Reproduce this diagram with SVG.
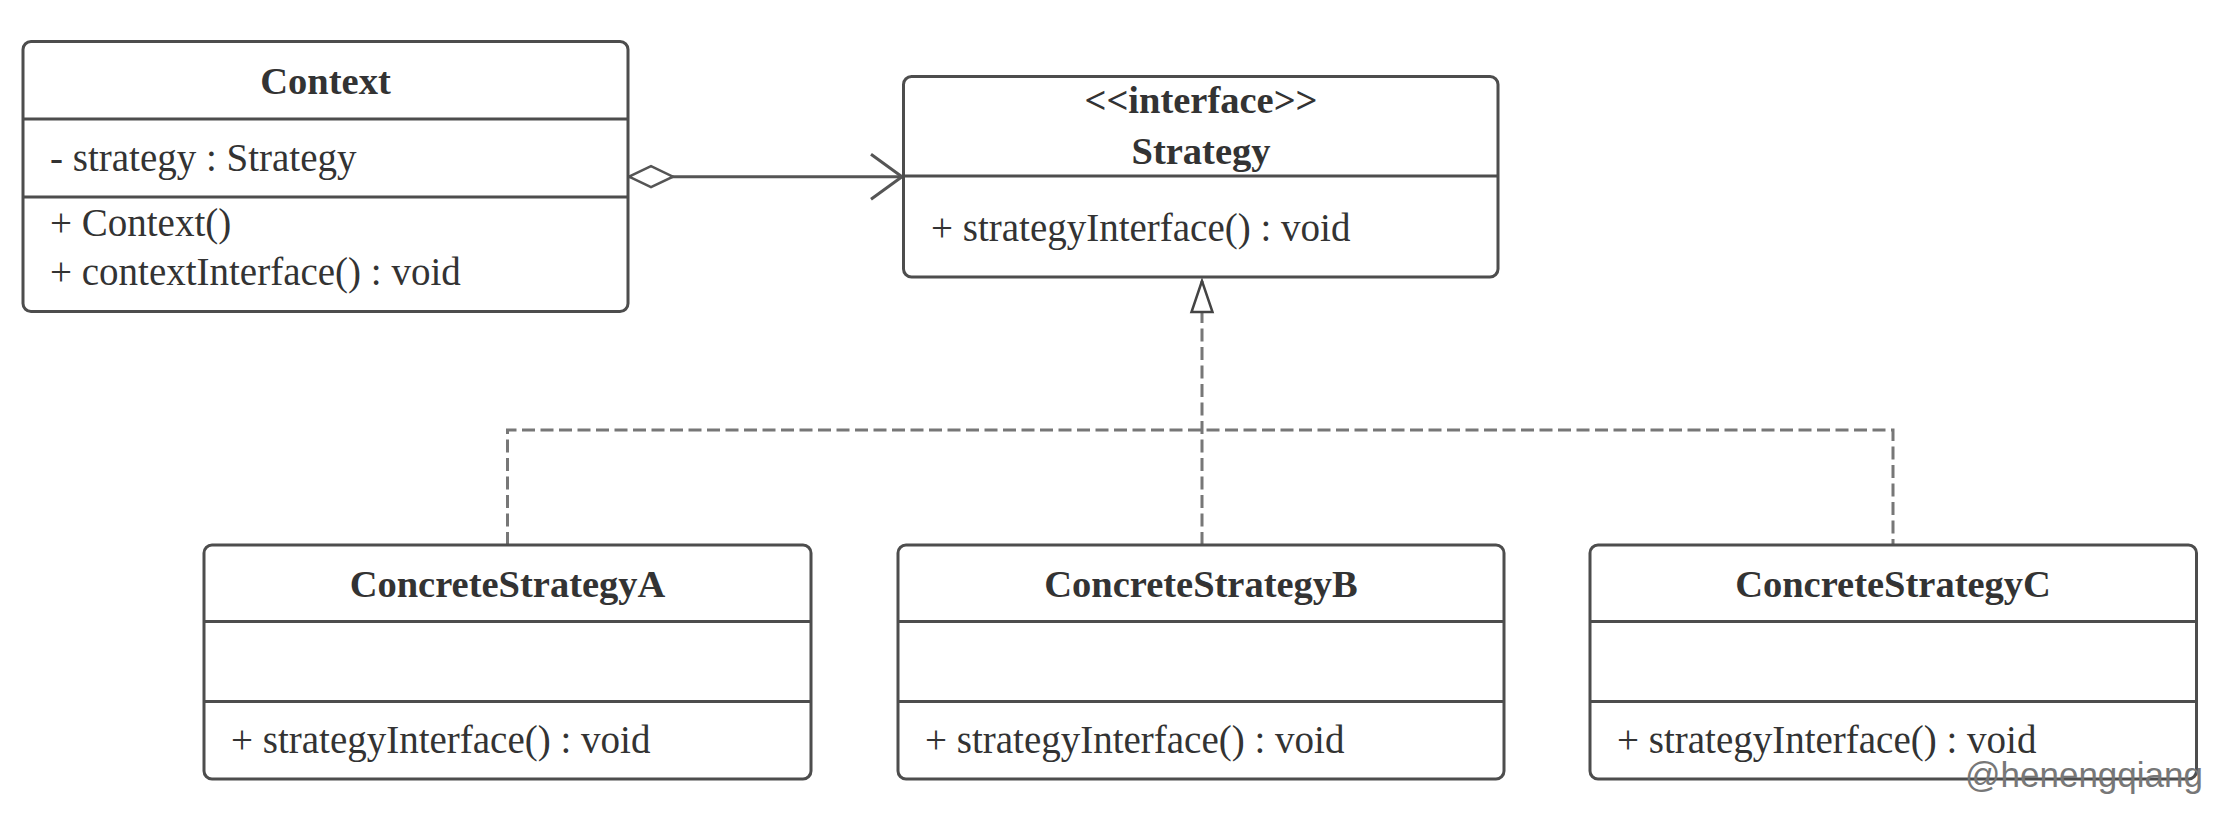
<svg xmlns="http://www.w3.org/2000/svg" width="2222" height="820" viewBox="0 0 2222 820">
<style>
.box{fill:#fff;stroke:#4d4d4d;stroke-width:3}
.div{stroke:#4d4d4d;stroke-width:3}
.t{font-family:"Liberation Serif","Times New Roman",serif;font-size:39px;fill:#333}
.b{font-family:"Liberation Serif","Times New Roman",serif;font-size:38.5px;font-weight:bold;fill:#333;text-anchor:middle}
.solid{fill:none;stroke:#555;stroke-width:3}
.dash{fill:none;stroke:#777;stroke-width:3;stroke-dasharray:13 5.5}
.wm{font-family:"Liberation Sans",Arial,sans-serif;font-size:35px;fill:#777}
</style>
<defs>
<marker id="diamond" markerUnits="userSpaceOnUse" viewBox="0 -13 48 26" markerWidth="48" markerHeight="26" refX="0" refY="0" orient="auto">
<path d="M1,0 L23,-10.5 L45,0 L23,10.5 Z" fill="#fff" stroke="#555" stroke-width="2.5"/>
</marker>
<marker id="open" markerUnits="userSpaceOnUse" viewBox="-35 -26 38 52" markerWidth="38" markerHeight="52" refX="0" refY="0" orient="auto">
<path d="M-31,-22.5 L0,0 L-31,22.5" fill="none" stroke="#555" stroke-width="3"/>
</marker>
<marker id="tri" markerUnits="userSpaceOnUse" viewBox="-34 -14 37 28" markerWidth="37" markerHeight="28" refX="0" refY="0" orient="auto">
<path d="M0,0 L-31,-10.5 L-31,10.5 Z" fill="#fff" stroke="#444" stroke-width="2.5" stroke-dasharray="none"/>
</marker>
</defs>
<rect width="2222" height="820" fill="#fff"/>
<g id="connectors">
<path class="solid" d="M628,176.7 L902,176.7" marker-start="url(#diamond)" marker-end="url(#open)"/>
<path class="dash" d="M507.5,545 L507.5,430 L1893,430 L1893,545"/>
<path class="dash" d="M1202,545 L1202,281" marker-end="url(#tri)"/>
</g>
<g id="Context">
<rect class="box" x="23" y="41.5" width="605" height="270" rx="8"/>
<line class="div" x1="23" y1="119" x2="628" y2="119"/>
<line class="div" x1="23" y1="197" x2="628" y2="197"/>
<text class="b" x="325.5" y="94">Context</text>
<text class="t" x="50" y="171">- strategy : Strategy</text>
<text class="t" x="50" y="236">+ Context()</text>
<text class="t" x="50" y="285">+ contextInterface() : void</text>
</g>
<g id="Strategy">
<rect class="box" x="903.5" y="76.5" width="594.5" height="200.5" rx="8"/>
<line class="div" x1="903.5" y1="176" x2="1498" y2="176"/>
<text class="b" x="1201" y="113">&lt;&lt;interface&gt;&gt;</text>
<text class="b" x="1201" y="164">Strategy</text>
<text class="t" x="931" y="241">+ strategyInterface() : void</text>
</g>
<g id="ConcreteStrategyA">
<rect class="box" x="204" y="545" width="607" height="234" rx="8"/>
<line class="div" x1="204" y1="621.5" x2="811" y2="621.5"/>
<line class="div" x1="204" y1="701.5" x2="811" y2="701.5"/>
<text class="b" x="507.5" y="597">ConcreteStrategyA</text>
<text class="t" x="231" y="753">+ strategyInterface() : void</text>
</g>
<g id="ConcreteStrategyB">
<rect class="box" x="898" y="545" width="606" height="234" rx="8"/>
<line class="div" x1="898" y1="621.5" x2="1504" y2="621.5"/>
<line class="div" x1="898" y1="701.5" x2="1504" y2="701.5"/>
<text class="b" x="1201" y="597">ConcreteStrategyB</text>
<text class="t" x="925" y="753">+ strategyInterface() : void</text>
</g>
<g id="ConcreteStrategyC">
<rect class="box" x="1590" y="545" width="606.5" height="234" rx="8"/>
<line class="div" x1="1590" y1="621.5" x2="2196.5" y2="621.5"/>
<line class="div" x1="1590" y1="701.5" x2="2196.5" y2="701.5"/>
<text class="b" x="1893" y="597">ConcreteStrategyC</text>
<text class="t" x="1617" y="753">+ strategyInterface() : void</text>
</g>
<text class="wm" x="1965" y="787">@henengqiang</text>
</svg>
